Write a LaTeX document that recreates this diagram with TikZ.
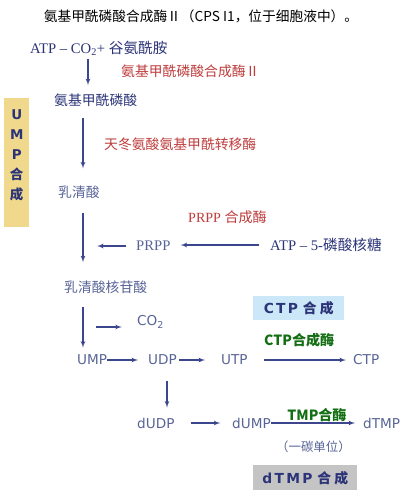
\documentclass[tikz,border=0pt]{standalone}
\usepackage{fontspec}
\setmainfont{Liberation Serif}
\newfontfamily\cjk{Noto Sans CJK SC}
\newfontfamily\vsans{DejaVu Sans}
\usepackage{tikz}
\usetikzlibrary{arrows}
\usetikzlibrary{positioning}
\definecolor{navy}{RGB}{44,52,120}
\definecolor{paleblue}{RGB}{88,100,150}
\definecolor{enzred}{RGB}{190,60,60}
\definecolor{enzgreen}{RGB}{20,110,20}
\definecolor{arrowblue}{RGB}{60,70,140}
\definecolor{umpyellow}{RGB}{240,216,140}
\definecolor{ctpblue}{RGB}{204,232,248}
\definecolor{tmpgray}{RGB}{196,196,196}
\tikzstyle{line} = [draw, arrowblue, line width=0.9pt, -latex']
\tikzstyle{enzyme} = [text=enzred, font=\cjk\fontsize{11.8}{13}\selectfont, anchor=west]
\tikzstyle{metab} = [text=navy, font=\cjk\fontsize{11.8}{13}\selectfont, anchor=west]
\tikzstyle{nucl} = [text=paleblue, font=\vsans\fontsize{11.6}{13}\selectfont, anchor=west]
\tikzstyle{synth} = [text=enzgreen, font=\cjk\bfseries\fontsize{12}{13}\selectfont]
\tikzstyle{tagbox} = [rectangle, anchor=north west, text=navy,
font=\vsans\bfseries\fontsize{11.8}{12}\selectfont]

\begin{document}
\begin{tikzpicture}[x=0.03cm, y=-0.03cm, inner sep=0pt]
\useasboundingbox (0,0) rectangle (411,491);
% Place nodes
\node [font=\cjk\fontsize{11.7}{13}\selectfont] (i0) at (201,16) {氨基甲酰磷酸合成酶Ⅱ（CPS I1，位于细胞液中）。};
\node [metab, font=\fontsize{12.5}{13}\selectfont] (i1) at (30,48) {ATP – CO\textsubscript{2}+ {\cjk 谷氨酰胺}};
\node [enzyme] (e1) at (121,71) {氨基甲酰磷酸合成酶Ⅱ};
\node [metab] (i2) at (54,100) {氨基甲酰磷酸};
\node [enzyme] (e2) at (104,144) {天冬氨酸氨基甲酰转移酶};
\node [metab, text=paleblue] (i3) at (58,192) {乳清酸};
\node [enzyme, font=\fontsize{12}{13}\selectfont] (e3) at (188,217) {PRPP {\cjk 合成酶}};
\node [metab, text=paleblue, font=\fontsize{12.5}{13}\selectfont] (i4) at (136,246) {PRPP};
\node [metab, font=\fontsize{12.5}{13}\selectfont] (i5) at (270,245) {ATP – 5-{\cjk 磷酸核糖}};
\node [metab, text=paleblue] (i6) at (64,287) {乳清酸核苷酸};
\node [nucl] (i7) at (137,322) {CO\textsubscript{2}};
\node [nucl] (i8) at (77,360) {UMP};
\node [nucl] (i9) at (148,360) {UDP};
\node [nucl] (i10) at (221,360) {UTP};
\node [nucl] (i11) at (353,360) {CTP};
\node [nucl] (i12) at (137,423) {dUDP};
\node [nucl] (i13) at (232,423) {dUMP};
\node [nucl] (i14) at (363,423) {dTMP};
\node [synth, anchor=west] (e4) at (264,340) {CTP合成酶};
\node [metab, text=paleblue, font=\cjk\fontsize{10.6}{11}\selectfont] (i15) at (276,447) {（一碳单位）};

% Boxes
\node [tagbox, fill=umpyellow, minimum width=0.75cm, minimum height=3.87cm, align=center,
font=\vsans\bfseries\fontsize{11.5}{17}\selectfont] (b1) at (4,98) {U\\M\\P\\{\cjk 合}\\{\cjk 成}\\[-3pt]\mbox{}};
\node [tagbox, fill=ctpblue, minimum width=2.73cm, minimum height=0.72cm] (b2) at (253,296) {C\,T\,P {\cjk 合 成}};
\node [tagbox, fill=tmpgray, minimum width=3.12cm, minimum height=0.75cm] (b3) at (253,465) {d\,T\,M\,P {\cjk 合 成}};

% Draw edges
\coordinate (ax1) at (88,0);
\coordinate (ax2) at (83,0);
\coordinate (ax3) at (167,0);
\coordinate (co2) at (96,327);
\path [line, shorten <=3pt, shorten >=7pt] (i1.south -| ax1) -- (i2.north -| ax1);
\path [line, shorten <=9.5pt, shorten >=14.5pt] (i2.south -| ax2) -- (i3.north -| ax2);
\path [line, shorten <=12pt, shorten >=15.5pt] (i3.south -| ax2) -- (i6.north -| ax2);
\path [line, shorten <=11.5pt, shorten >=6pt] (i6.south -| ax2) -- (i8.north -| ax2);
\path [line, shorten <=9pt, shorten >=8.5pt] (i5.west) -- (i5.west -| i4.east);
\path [line, shorten <=8.5pt, shorten >=12pt] (i4.west) -- (i4.west -| ax2);
\path [line, shorten >=13pt] (co2) -- (co2 -| i7.west);
\path [line, shorten >=8.5pt] (i8.east) -- (i9.west);
\path [line, shorten <=1.7pt, shorten >=13.6pt] (i9.east) -- (i10.west);
\path [line, shorten <=13.6pt, shorten >=6pt] (i10.east) -- (i11.west);
\path [line, shorten <=13pt, shorten >=8.5pt] (i9.south -| ax3) -- (i12.north -| ax3);
\path [line, shorten <=13.6pt, shorten >=10pt] (i12.east) -- (i13.west);
\path [line, shorten >=6.8pt] (i13.east) -- node [synth, above=1pt] (e5) {TMP合酶} (i14.west);
\end{tikzpicture}
\end{document}
